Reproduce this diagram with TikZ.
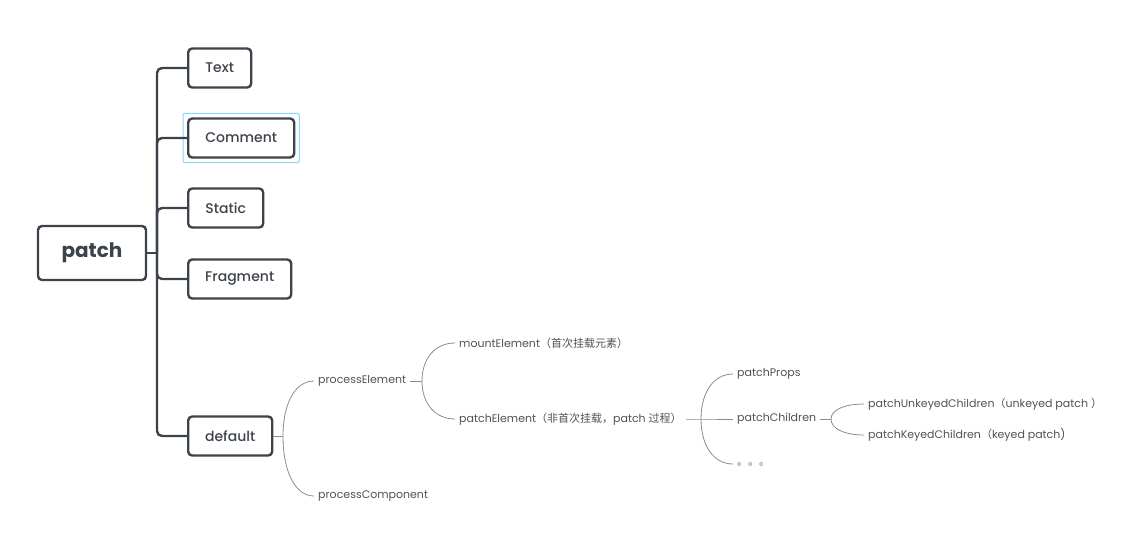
\documentclass[tikz,border=0pt]{standalone}
\usepackage{fontspec}
\setmainfont{Poppins}
\newfontfamily\medfont{Poppins Medium}
\newfontfamily\cjk{Noto Sans CJK SC}
\usetikzlibrary{calc}
\definecolor{boxline}{RGB}{61,67,75}
\definecolor{leaftext}{RGB}{78,82,88}
\definecolor{leafline}{RGB}{138,140,144}
\definecolor{selblue}{RGB}{140,212,250}
\begin{document}
\begin{tikzpicture}
  [x=1pt,y=-1pt,every node/.style={text=boxline}]
  \tikzstyle{topic} = [draw=boxline,line width=2.4pt,rounded corners=4pt,anchor=west,font=\fontsize{14}{16}\selectfont\medfont,minimum height=39pt,inner xsep=0pt]
  \tikzstyle{leaf} = [anchor=west,text=leaftext,font=\fontsize{11}{13}\selectfont,inner xsep=4pt,inner ysep=1pt]
  \tikzstyle{trunk} = [draw=boxline,line width=2.4pt]
  \tikzstyle{twig} = [draw=leafline,line width=0.8pt]
  \useasboundingbox (0,0) rectangle (1123,536);
  % main topic and first level
  \node[topic,anchor=center,font=\fontsize{20}{24}\selectfont\bfseries,minimum width=108pt,minimum height=54pt] (patch) at (92,253) {patch};
  \node[topic,minimum width=63pt]  (t1) at (187,68)  {Text};
  \node[topic,minimum width=106pt] (t2) at (187,138) {Comment};
  \node[topic,minimum width=75pt]  (t3) at (187,208) {Static};
  \node[topic,minimum width=103pt] (t4) at (187,279) {Fragment};
  \node[topic,minimum width=84pt]  (t5) at (187,436) {default};
  \draw[selblue,line width=1pt,rounded corners=2pt] ([shift={(-4,-4)}]t2.north west) rectangle ([shift={(4,4)}]t2.south east);
  \coordinate (hub) at (157,253);
  \draw[trunk] (patch.east) -- (hub);
\foreach \n in {t1,t2,t3,t4,t5}
   \draw[trunk,rounded corners=5pt] (hub) |- (\n.west);
  % second level and deeper
  \node[leaf] (pe)   at (314,381) {processElement};
  \node[leaf] (pc)   at (314,496) {processComponent};
  \node[leaf] (me)   at (455,343) {mountElement{\cjk （首次挂载元素）}};
  \node[leaf] (pa)   at (455,419) {patchElement{\cjk （非首次挂载，}patch {\cjk 过程）}};
  \node[leaf] (pp)   at (733,374) {patchProps};
  \node[leaf] (pch)  at (733,419) {patchChildren};
  \node[leaf] (dots) at (733,464) {\cjk 。。。};
  \node[leaf] (puk)  at (864,404) {patchUnkeyedChildren{\cjk （}unkeyed patch {\cjk ）}};
  \node[leaf] (pk)   at (864,435) {patchKeyedChildren{\cjk （}keyed patch)};
  \coordinate (f1) at (283,436);
  \coordinate (f2) at (422,381);
  \coordinate (f3) at (701,419);
  \coordinate (f4) at (831,419);
  \draw[twig] (t5.east) -- (f1);
  \draw[twig] (pe.east) -- (f2);
  \draw[twig] (pa.east) -- (f3) -- (pch.west);
  \draw[twig] (pch.east) -- (f4);
\foreach \f/\c in {f1/pe,f1/pc,f2/me,f2/pa,f3/pp,f3/dots,f4/puk,f4/pk}
   \draw[twig] (\f) .. controls ($(\f)!0.6!(\f |- \c.west)$) and ($(\c.west)!0.6!(\f |- \c.west)$) .. (\c.west);
\end{tikzpicture}
\end{document}
